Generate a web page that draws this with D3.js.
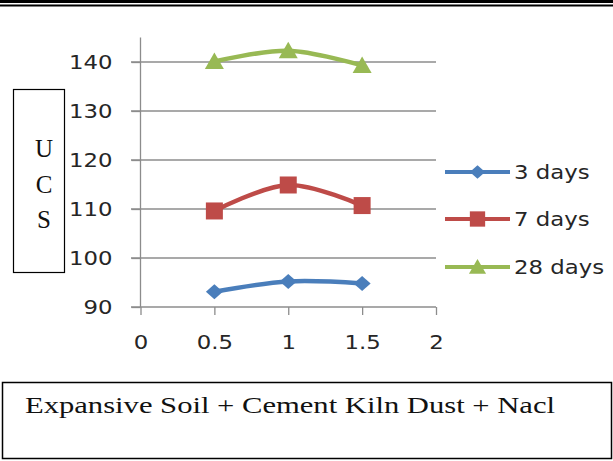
<!DOCTYPE html>
<html><head><meta charset="utf-8">
<script src="https://cdn.jsdelivr.net/npm/d3@7/dist/d3.min.js"></script>
<style>html,body{margin:0;padding:0;background:#fff;}svg{display:block;}</style>
</head><body>
<script>
const xValues = [0.5, 1, 1.5];
const seriesNames = ["3 days", "7 days", "28 days"];
const days3 = [93.1, 95.2, 94.8];
const days7 = [109.6, 114.9, 110.7];
const days28 = [140.1, 142.3, 139.3];
const xTicks = [0, 0.5, 1, 1.5, 2];
const yTicks = [90, 100, 110, 120, 130, 140];
const colors = ["#4a7ebb", "#be4b48", "#98b954"];
const shapes = ["diamond", "square", "triangle"];
const yTitle = ["U", "C", "S"];
const caption = "Expansive Soil + Cement Kiln Dust + Nacl";
const topDividers = [150, 248, 350, 447, 537];

const W = 613, H = 461;
const svg = d3.select("body").append("svg").attr("width", W).attr("height", H);

// top double rule
svg.append("line").attr("x1",0).attr("x2",W).attr("y1",1.5).attr("y2",1.5).attr("stroke","#000").attr("stroke-width",3);
svg.append("line").attr("x1",0).attr("x2",W).attr("y1",5.5).attr("y2",5.5).attr("stroke","#000").attr("stroke-width",2);
topDividers.forEach(x => svg.append("line").attr("x1",x).attr("x2",x).attr("y1",0).attr("y2",3).attr("stroke","#000").attr("stroke-width",2));

const x = d3.scaleLinear().domain([0, 2]).range([140.5, 436]);
const y = d3.scaleLinear().domain([90, 145]).range([307, 37.5]);

// gridlines
svg.append("g").selectAll("line").data(yTicks.slice(1)).join("line")
  .attr("x1", 131).attr("x2", 436).attr("y1", d => y(d)).attr("y2", d => y(d))
  .attr("stroke", "#8c8c8c").attr("stroke-width", 1.3);

// y axis
const yAxis = svg.append("g").attr("transform", `translate(${x(0)},0)`)
  .call(d3.axisLeft(y).tickValues(yTicks).tickSize(9).tickPadding(0).tickFormat(d3.format("d")));
yAxis.select(".domain").attr("stroke", "#8c8c8c").attr("stroke-width", 1.3).attr("d", `M0,${y(145)}V${y(90)}`);
yAxis.selectAll(".tick line").attr("stroke", "#8c8c8c").attr("stroke-width", 1.3);
yAxis.selectAll(".tick text").remove();
yAxis.selectAll(".tick").append("text")
  .attr("transform", "translate(-28,0) scale(1.2,1)")
  .attr("text-anchor", "end").attr("dy", "0.36em")
  .attr("fill", "#262626").attr("font-family", "DejaVu Sans").attr("font-size", 19)
  .text(d => d);

// x axis
const xAxis = svg.append("g").attr("transform", `translate(0,${y(90)})`)
  .call(d3.axisBottom(x).tickValues(xTicks).tickSize(8).tickPadding(0).tickFormat(d => d));
xAxis.select(".domain").attr("stroke", "#8c8c8c").attr("stroke-width", 1.3).attr("d", `M131,0H${x(2)}`);
xAxis.selectAll(".tick line").attr("stroke", "#8c8c8c").attr("stroke-width", 1.3);
xAxis.selectAll(".tick text").remove();
xAxis.selectAll(".tick").append("text")
  .attr("transform", "translate(0,42) scale(1.2,1)")
  .attr("text-anchor", "middle")
  .attr("fill", "#262626").attr("font-family", "DejaVu Sans").attr("font-size", 19)
  .text(d => d);

// series
const allSeries = [days3, days7, days28];
const line = d3.line().x((d, i) => x(xValues[i])).y(d => y(d)).curve(d3.curveCatmullRom.alpha(0.5));
function marker(g, shape, color, cx, cy, k) {
  k = k || 1;
  if (shape === "diamond") {
    g.append("path").attr("d", `M${cx},${cy-7.5*k}L${cx+8.5*k},${cy}L${cx},${cy+7.5*k}L${cx-8.5*k},${cy}Z`).attr("fill", color);
  } else if (shape === "square") {
    g.append("rect").attr("x", cx-8.5*k).attr("y", cy-8.5*k).attr("width", 17*k).attr("height", 17*k).attr("fill", color);
  } else {
    g.append("path").attr("d", `M${cx},${cy-9*k}L${cx+9.5*k},${cy+7.5*k}L${cx-9.5*k},${cy+7.5*k}Z`).attr("fill", color);
  }
}
allSeries.forEach((vals, si) => {
  const g = svg.append("g");
  g.append("path").attr("d", line(vals)).attr("fill", "none").attr("stroke", colors[si]).attr("stroke-width", 4.5);
  vals.forEach((v, i) => marker(g, shapes[si], colors[si], x(xValues[i]), y(v)));
});

// legend
const legY = [172, 219, 267];
seriesNames.forEach((name, i) => {
  const g = svg.append("g");
  g.append("line").attr("x1", 445).attr("x2", 510).attr("y1", legY[i]).attr("y2", legY[i]).attr("stroke", colors[i]).attr("stroke-width", 4);
  marker(g, shapes[i], colors[i], 477.5, legY[i], 0.9);
  g.append("text").attr("transform", `translate(514,${legY[i]}) scale(1.2,1)`).attr("dy", "0.36em")
    .attr("fill", "#262626").attr("font-family", "DejaVu Sans").attr("font-size", 19).text(name);
});

// UCS box
svg.append("rect").attr("x", 13.5).attr("y", 89.5).attr("width", 51).attr("height", 183).attr("fill", "#fff").attr("stroke", "#000").attr("stroke-width", 1.2);
const ucsBase = [157, 193, 228];
yTitle.forEach((t, i) => svg.append("text").attr("x", 44).attr("y", ucsBase[i]).attr("text-anchor", "middle")
  .attr("font-family", "Liberation Serif").attr("font-size", 25).attr("fill", "#111").text(t));

// caption box
svg.append("rect").attr("x", 2.5).attr("y", 382.5).attr("width", 609).attr("height", 76).attr("fill", "none").attr("stroke", "#000").attr("stroke-width", 1.5);
svg.append("text").attr("x", 25).attr("y", 413).attr("font-family", "Liberation Serif").attr("font-size", 24)
  .attr("textLength", 530).attr("lengthAdjust", "spacingAndGlyphs").attr("fill", "#111").text(caption);
</script>
</body></html>
